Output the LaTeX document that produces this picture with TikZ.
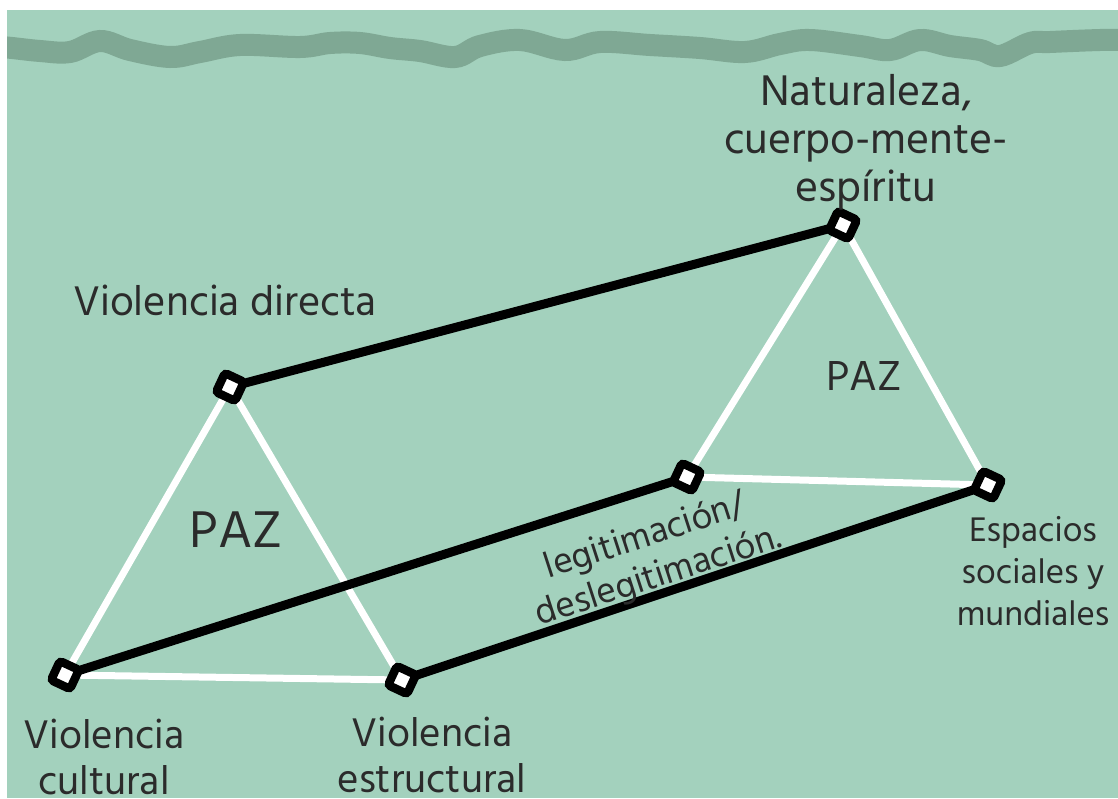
\documentclass[tikz,border=0pt]{standalone}
\usepackage{fontspec}
\setmainfont{Hind Madurai}
\definecolor{mint}{HTML}{A3D1BD}
\definecolor{wave}{HTML}{7FA894}
\definecolor{ink}{HTML}{2B2B2B}

\begin{document}
\begin{tikzpicture}[x=1pt,y=-1pt,
    vertex/.style={draw=black,line width=8.5pt,fill=white,minimum size=21pt,
        inner sep=0pt,rounded corners=3pt,rotate=-25},
    sideEdge/.style={white,line width=7pt},
    linkEdge/.style={black,line width=9pt},
    caption/.style={text=ink,align=center,inner sep=0pt,
        font=\fontsize{41}{46}\selectfont}]
    \useasboundingbox (0,0) rectangle (1118,798);
    \fill[white] (0,0) rectangle (1118,798);
    \fill[mint] (7,10) rectangle (1118,798);

    % wavy band at the top
    \begin{scope}
        \clip (7,10) rectangle (1118,798);
        \draw[wave,line width=22pt,line cap=round] plot[smooth,tension=0.6] coordinates {
            (-10,47) (7,47.5) (40,51) (70,52) (100,41) (130,50) (170,57) (200,52)
            (240,45) (300,47) (330,43) (360,43) (390,48) (420,51) (455,57) (480,46)
            (520,40) (565,50) (600,42) (650,45) (700,48) (745,52) (780,44) (810,40)
            (860,46) (890,50) (920,40) (950,46) (980,50) (1000,56) (1030,43)
            (1050,42) (1100,40) (1130,40)};
    \end{scope}

    % corners of the two triangles
    \coordinate (directa) at (230,387);
    \coordinate (cultural) at (65,675);
    \coordinate (estructural) at (402,680);
    \coordinate (naturaleza) at (843,225);
    \coordinate (legitimacion) at (687,477);
    \coordinate (espacios) at (988,485);

    \draw[sideEdge] (directa) -- (cultural) -- (estructural) -- cycle;
    \draw[sideEdge] (naturaleza) -- (legitimacion) -- (espacios) -- cycle;

    \draw[linkEdge] (directa) -- (naturaleza);
    \draw[linkEdge] (cultural) -- (legitimacion);
    \draw[linkEdge] (estructural) -- (espacios);

    \foreach \v in {directa,cultural,estructural,naturaleza,legitimacion,espacios}
        \node[vertex] (\v-mark) at (\v) {};

    % labels
    \node[caption,font=\fontsize{44}{48}\selectfont] (naturalezaText) at (866,142)
        {Naturaleza,\\cuerpo-mente-\\espíritu};
    \node[caption,font=\fontsize{42.5}{46}\selectfont] (directaText) at (225,300)
        {Violencia directa};
    \node[caption] (culturalText) at (104,757) {Violencia\\cultural};
    \node[caption] (estructuralText) at (432,755) {Violencia\\estructural};
    \node[caption,font=\fontsize{35}{42}\selectfont] (espaciosText) at (1033,571)
        {Espacios\\sociales y\\mundiales};
    \node[caption,font=\fontsize{53}{53}\selectfont] (pazLeft) at (236,530) {PAZ};
    \node[caption,font=\fontsize{43}{43}\selectfont] (pazRight) at (864,376) {PAZ};
    \node[caption,font=\fontsize{37}{42}\selectfont,rotate=18] (legitimacionText)
        at (652,557) {legitimación/\\deslegitimación.};
\end{tikzpicture}
\end{document}
